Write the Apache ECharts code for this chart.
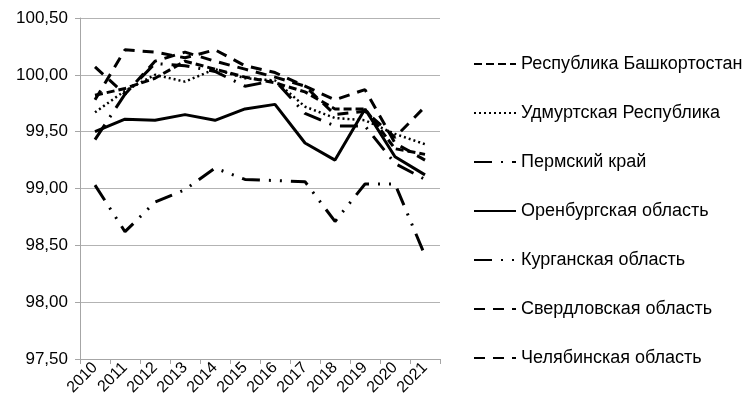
<!DOCTYPE html>
<html>
<head>
<meta charset="utf-8">
<script src="https://cdn.jsdelivr.net/npm/echarts@6/dist/echarts.min.js"></script>
<style>
  html, body { margin: 0; padding: 0; background: #fff; }
  #chart { width: 749px; height: 410px; }
</style>
</head>
<body>
<div id="chart"></div>
<script>
var years = ['2010','2011','2012','2013','2014','2015','2016','2017','2018','2019','2020','2021'];

var bashkortostan = [99.82, 99.88, 99.97, 100.12, 100.05, 99.98, 99.93, 99.85, 99.70, 99.70, 99.35, 99.30];
var udmurtia      = [99.67, 99.86, 100.00, 99.94, 100.05, 99.97, 99.95, 99.72, 99.62, 99.60, 99.48, 99.39];
var perm          = [99.43, 99.83, 100.10, 100.08, 100.03, 99.90, 99.95, 99.66, 99.55, 99.55, 99.22, 99.08];
var orenburg      = [99.50, 99.61, 99.60, 99.65, 99.60, 99.70, 99.74, 99.40, 99.25, 99.70, 99.28, 99.12];
var kurgan        = [99.03, 98.62, 98.88, 98.99, 99.18, 99.08, 99.07, 99.06, 98.71, 99.04, 99.04, 98.41];
var sverdlovsk    = [99.78, 100.22, 100.20, 100.15, 100.22, 100.08, 100.02, 99.90, 99.78, 99.87, 99.40, 99.25];
var chelyabinsk   = [100.07, 99.83, 100.12, 100.20, 100.12, 100.05, 99.98, 99.90, 99.65, 99.68, 99.45, 99.72];

var names = ['Республика Башкортостан', 'Удмуртская Республика', 'Пермский край',
    'Оренбургская область', 'Курганская область', 'Свердловская область', 'Челябинская область'];

var font = '"Liberation Sans", Arial, sans-serif';

// стили линий как в оригинале (Excel)
function mkSeries(name, data, dash, width) {
    return {
        name: name,
        type: 'line',
        data: data,
        symbol: 'none',
        itemStyle: { color: '#000' },
        lineStyle: { color: '#000', width: width || 3, type: dash, cap: 'butt' }
    };
}

var myChart = echarts.init(document.getElementById('chart'));

var option = {
    animation: false,
    textStyle: { fontFamily: font },
    grid: { left: 80, right: 309, top: 18, bottom: 51 },
    legend: {
        orient: 'vertical',
        left: 468,
        top: 49,
        itemWidth: 42,
        itemHeight: 20,
        itemGap: 29,
        itemStyle: { opacity: 0 },
        textStyle: { fontSize: 18, color: '#000', fontFamily: font, lineHeight: 20 },
        data: names
    },
    xAxis: {
        type: 'category',
        data: years,
        boundaryGap: true,
        axisLine: { lineStyle: { color: '#a6a6a6', width: 1 } },
        axisTick: { show: true, length: 5, lineStyle: { color: '#a6a6a6' } },
        axisLabel: { rotate: 45, fontSize: 16, color: '#000', margin: 6, fontFamily: font }
    },
    yAxis: {
        type: 'value',
        min: 97.5,
        max: 100.5,
        interval: 0.5,
        axisLine: { show: true, lineStyle: { color: '#a6a6a6', width: 1 } },
        axisTick: { show: true, length: 5, lineStyle: { color: '#a6a6a6' } },
        splitLine: { lineStyle: { color: '#b3b3b3', width: 1 } },
        axisLabel: {
            fontSize: 17, color: '#000', margin: 12, fontFamily: font,
            formatter: function (v) { return v.toFixed(2).replace('.', ','); }
        }
    },
    series: [
        mkSeries(names[0], bashkortostan, [8, 4]),
        mkSeries(names[1], udmurtia, [2, 3], 2.5),
        mkSeries(names[2], perm, [18, 9, 2, 9]),
        mkSeries(names[3], orenburg, 'solid'),
        mkSeries(names[4], kurgan, [18, 9, 2, 9, 2, 9]),
        mkSeries(names[5], sverdlovsk, [11, 8]),
        mkSeries(names[6], chelyabinsk, [11, 8])
    ]
};

myChart.setOption(option);
</script>
</body>
</html>
